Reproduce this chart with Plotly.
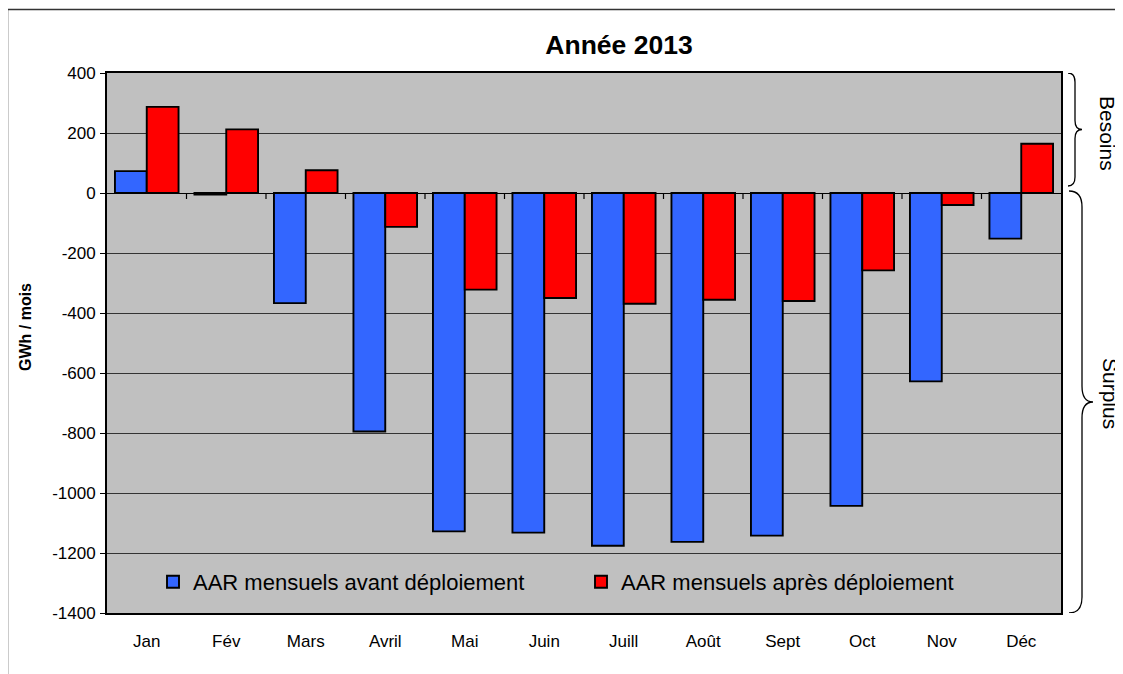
import plotly.graph_objects as go

# ---------------- data ----------------
months = ["Jan", "Fév", "Mars", "Avril", "Mai", "Juin", "Juill", "Août", "Sept", "Oct", "Nov", "Déc"]
aar_avant = [73, -5, -367, -795, -1128, -1132, -1176, -1163, -1142, -1043, -628, -152]
aar_apres = [287, 212, 76, -113, -322, -350, -369, -356, -360, -258, -40, 164]
y_tickvals = [400, 200, 0, -200, -400, -600, -800, -1000, -1200, -1400]
y_ticktext = [str(v) for v in y_tickvals]
series_names = ["AAR mensuels avant déploiement", "AAR mensuels après déploiement"]
series_colors = ["#3366FF", "#FF0000"]
title_text = "Année 2013"
y_title = "GWh / mois"
label_besoins = "Besoins"
label_surplus = "Surplus"

# ---------------- geometry ----------------
OFF = 8                      # page body margin
W, H = 1123 - OFF, 674 - OFF
PLOT_L, PLOT_R, PLOT_T, PLOT_B = 107, 1061, 73, 613   # page pixel coords of plot area
ML = PLOT_L - OFF
MR = W - (PLOT_R - OFF)
MT = PLOT_T - OFF
MB = H - (PLOT_B - OFF)
PW = PLOT_R - PLOT_L
PH = PLOT_B - PLOT_T
YMIN, YMAX = -1400, 400
FONT = "Arial, Liberation Sans, sans-serif"


def px_x(px):
    """page pixel x -> paper x"""
    return (px - PLOT_L) / PW


def px_y(py):
    """page pixel y -> paper y"""
    return (PLOT_B - py) / PH


def units(px):
    """pixel length -> y data units"""
    return px * (YMAX - YMIN) / PH


fig = go.Figure()
for vals, name, col in zip([aar_avant, aar_apres], series_names, series_colors):
    fig.add_trace(go.Bar(
        x=months, y=vals, name=name,
        marker=dict(color=col, line=dict(color="black", width=1.9)),
    ))

shapes = []
# tick marks on the zero line at category boundaries
for i in range(len(months) - 1):
    shapes.append(dict(type="line", xref="x", yref="y", x0=i + 0.5, x1=i + 0.5,
                       ysizemode="pixel", yanchor=0, y0=0, y1=-6,
                       line=dict(color="black", width=1.2)))


def brace(x0px, xvpx, xppx, ytop, ybot, r):
    x0, xv, xp = px_x(x0px), px_x(xvpx), px_x(xppx)
    ym = (ytop + ybot) / 2
    path = (f"M {x0},{ytop} Q {xv},{ytop} {xv},{ytop - r} "
            f"L {xv},{ym + r} Q {xv},{ym} {xp},{ym} "
            f"Q {xv},{ym} {xv},{ym - r} "
            f"L {xv},{ybot + r} Q {xv},{ybot} {x0},{ybot}")
    return dict(type="path", xref="paper", yref="y", path=path,
                line=dict(color="black", width=1.3))


shapes.append(brace(1068, 1075, 1082, YMAX, 0 + units(7), units(9)))
shapes.append(brace(1069, 1082, 1093, 0 - units(-2), YMIN, units(16)))

# outer frame
shapes.append(dict(type="rect", xref="paper", yref="paper",
                   x0=px_x(7.5), x1=px_x(1123 + 20), y0=px_y(674 + 20), y1=px_y(9.5),
                   line=dict(color="#333333", width=1.5), layer="below"))

annotations = [
    dict(text=y_title, textangle=-90, xref="paper", yref="paper",
         x=px_x(25), y=px_y(327), xanchor="center", yanchor="middle", showarrow=False,
         font=dict(family=FONT, size=16, color="black", weight="bold")),
    dict(text=label_besoins, textangle=90, xref="paper", yref="y",
         x=px_x(1108), y=(YMAX + 0) / 2, xanchor="center", yanchor="middle", showarrow=False,
         font=dict(family=FONT, size=21, color="black")),
    dict(text=label_surplus, textangle=90, xref="paper", yref="y",
         x=px_x(1111), y=(0 + YMIN) / 2 + units(10), xanchor="center", yanchor="middle",
         showarrow=False, font=dict(family=FONT, size=21, color="black")),
]

fig.update_layout(
    width=W, height=H,
    margin=dict(l=ML, r=MR, t=MT, b=MB, autoexpand=False),
    paper_bgcolor="white", plot_bgcolor="#C0C0C0",
    font=dict(family=FONT, color="black"),
    title=dict(text=title_text, x=(619 - OFF) / W, xanchor="center",
               y=1 - (45 - OFF) / H, yanchor="middle",
               xref="container", yref="container",
               font=dict(family=FONT, size=26.5, color="black", weight="bold")),
    barmode="group", bargap=0.2, bargroupgap=0,
    showlegend=True,
    legend=dict(orientation="h", x=px_x(153), xanchor="left", y=px_y(582), yanchor="middle",
                bgcolor="rgba(0,0,0,0)", font=dict(family=FONT, size=22, color="black"),
                entrywidth=383, entrywidthmode="pixels", traceorder="normal"),
    xaxis=dict(type="category", categoryorder="array", categoryarray=months,
               range=[-0.5, len(months) - 0.5], showgrid=False,
               showline=True, mirror=True, linecolor="black", linewidth=1.8,
               ticks="", ticklabelstandoff=12,
               tickfont=dict(family=FONT, size=17, color="black")),
    yaxis=dict(range=[YMIN, YMAX], tickvals=y_tickvals, ticktext=y_ticktext, showgrid=True,
               gridcolor="#333333", gridwidth=1,
               zeroline=True, zerolinecolor="black", zerolinewidth=1.3,
               showline=True, mirror=True, linecolor="black", linewidth=1.8,
               ticks="outside", ticklen=5, tickcolor="black", ticklabelstandoff=1,
               tickfont=dict(family=FONT, size=17, color="black")),
    shapes=shapes,
    annotations=annotations,
)

fig.write_html("out.html")
